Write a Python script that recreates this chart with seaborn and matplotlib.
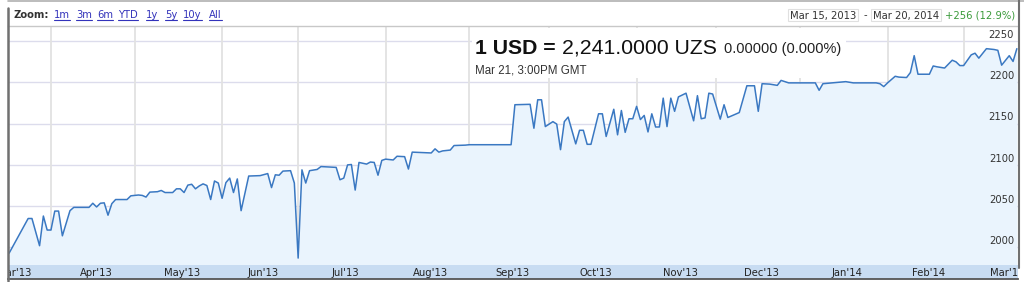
import numpy as np
import pandas as pd
import matplotlib
matplotlib.use("Agg")
import matplotlib.pyplot as plt
import matplotlib.transforms as mtransforms
from matplotlib.patches import Rectangle
from matplotlib.lines import Line2D
import seaborn as sns

# ---------------- data ----------------
dates = [
    "2013-03-15", "2013-03-22", "2013-03-25", "2013-03-27", "2013-03-28", "2013-03-29",
    "2013-04-01", "2013-04-02", "2013-04-03", "2013-04-04", "2013-04-08", "2013-04-09",
    "2013-04-15", "2013-04-16", "2013-04-17", "2013-04-18", "2013-04-19", "2013-04-22",
    "2013-04-23", "2013-04-24", "2013-04-26", "2013-04-29", "2013-04-30", "2013-05-02",
    "2013-05-03", "2013-05-06", "2013-05-07", "2013-05-09", "2013-05-10", "2013-05-13",
    "2013-05-15", "2013-05-16", "2013-05-17", "2013-05-20", "2013-05-21", "2013-05-22",
    "2013-05-23", "2013-05-24", "2013-05-27", "2013-05-28", "2013-05-29", "2013-05-30",
    "2013-05-31", "2013-06-03", "2013-06-04", "2013-06-05", "2013-06-06", "2013-06-07",
    "2013-06-10", "2013-06-12", "2013-06-17", "2013-06-19", "2013-06-20", "2013-06-21",
    "2013-06-24", "2013-06-25", "2013-06-27", "2013-06-28", "2013-07-01", "2013-07-02",
    "2013-07-03", "2013-07-04", "2013-07-08", "2013-07-09", "2013-07-15", "2013-07-16",
    "2013-07-17", "2013-07-18", "2013-07-19", "2013-07-22", "2013-07-23", "2013-07-25",
    "2013-07-26", "2013-07-29", "2013-07-30", "2013-07-31", "2013-08-01", "2013-08-05",
    "2013-08-06", "2013-08-08", "2013-08-09", "2013-08-12", "2013-08-19", "2013-08-20",
    "2013-08-21", "2013-08-22", "2013-08-26", "2013-08-27", "2013-08-30", "2013-09-02",
    "2013-09-17", "2013-09-18", "2013-09-24", "2013-09-25", "2013-09-26", "2013-09-27",
    "2013-09-30", "2013-10-02", "2013-10-03", "2013-10-04", "2013-10-07", "2013-10-08",
    "2013-10-10", "2013-10-11", "2013-10-14", "2013-10-15", "2013-10-16", "2013-10-18",
    "2013-10-21", "2013-10-22", "2013-10-24", "2013-10-25", "2013-10-28", "2013-10-29",
    "2013-10-30", "2013-10-31", "2013-11-01", "2013-11-04", "2013-11-05", "2013-11-06",
    "2013-11-07", "2013-11-08", "2013-11-11", "2013-11-12", "2013-11-13", "2013-11-14",
    "2013-11-15", "2013-11-18", "2013-11-20", "2013-11-22", "2013-11-25", "2013-11-26",
    "2013-11-27", "2013-11-28", "2013-11-29", "2013-12-03", "2013-12-04", "2013-12-05",
    "2013-12-10", "2013-12-12", "2013-12-16", "2013-12-17", "2013-12-18", "2013-12-20",
    "2013-12-24", "2013-12-25", "2013-12-27", "2014-01-07", "2014-01-08", "2014-01-09",
    "2014-01-17", "2014-01-21", "2014-01-29", "2014-01-30", "2014-01-31", "2014-02-03",
    "2014-02-05", "2014-02-06", "2014-02-10", "2014-02-11", "2014-02-12", "2014-02-13",
    "2014-02-18", "2014-02-19", "2014-02-20", "2014-02-24", "2014-02-26", "2014-02-27",
    "2014-02-28", "2014-03-03", "2014-03-05", "2014-03-06", "2014-03-07", "2014-03-11",
    "2014-03-13", "2014-03-14", "2014-03-17", "2014-03-19", "2014-03-20", "2014-03-21",
]
rates = [
    1993, 2035, 2035, 2002, 2038, 2021,
    2021, 2044, 2044, 2014, 2044.5, 2048.5,
    2048.5, 2053.5, 2049, 2053.5, 2054, 2039,
    2053, 2058, 2058, 2058, 2062.5, 2063.5,
    2063, 2061, 2067, 2067.5, 2069, 2066.5,
    2066.5, 2071, 2071, 2066.5, 2075.5, 2076.5,
    2071, 2074.5, 2077, 2075, 2058, 2080.5,
    2078, 2059.5, 2078.5, 2084, 2066.5, 2083,
    2044.5, 2086.5, 2087, 2089.5, 2072.5, 2088,
    2087.5, 2092.5, 2093, 2078, 1987, 2094,
    2078, 2093, 2094.5, 2098, 2097, 2082,
    2084, 2100, 2100.5, 2069.5, 2103, 2101,
    2103.5, 2103, 2087.5, 2105.5, 2107, 2106,
    2110.5, 2110, 2095, 2115.5, 2114.5, 2119.5,
    2115.5, 2117, 2118, 2123.5, 2124, 2124.5,
    2124.5, 2173, 2173.5, 2144.5, 2179, 2179,
    2146.5, 2152.5, 2149.5, 2118.5, 2152.5, 2158,
    2125.5, 2142, 2142, 2125, 2125, 2162,
    2162, 2134.5, 2167.5, 2136.5, 2166, 2139.5,
    2156, 2156, 2171, 2155, 2160, 2140,
    2162, 2146, 2146, 2181, 2146.5, 2181,
    2165, 2182.5, 2187, 2153.5, 2184, 2156,
    2157, 2187, 2186, 2155.5, 2173, 2157.5,
    2163.5, 2196, 2196, 2165, 2198.5, 2198,
    2196.5, 2202.5, 2199.5, 2199.5, 2190.5, 2198.5,
    2201, 2199.5, 2199.5, 2198.5, 2195, 2199.5,
    2207.5, 2206.5, 2206, 2212, 2232.5, 2210,
    2210, 2220, 2219, 2217.5, 2227, 2225,
    2220.5, 2220.5, 2233.5, 2235.5, 2229.5, 2241,
    2240, 2239, 2221, 2232.5, 2225.5, 2241,
]
month_labels = ["Mar'13", "Apr'13", "May'13", "Jun'13", "Jul'13", "Aug'13", "Sep'13",
                "Oct'13", "Nov'13", "Dec'13", "Jan'14", "Feb'14", "Mar'14"]
y_ticks = [2000, 2050, 2100, 2150, 2200, 2250]
zoom_buttons = ["1m", "3m", "6m", "YTD", "1y", "5y", "10y", "All"]
range_start = "Mar 15, 2013"
range_end = "Mar 20, 2014"
change_text = "+256 (12.9%)"
title_bold = "1 USD ="
title_value = "2,241.0000 UZS"
title_change = "0.00000 (0.000%)"
title_time = "Mar 21, 3:00PM GMT"

# ---------------- scales ----------------
W, H = 1024, 282
cal = pd.bdate_range("2013-03-01", "2014-05-30")
origin = cal.get_loc(pd.Timestamp(dates[0]))


def bpos(d):
    return cal.get_indexer(pd.to_datetime(d)) - origin


df = pd.DataFrame({"date": pd.to_datetime(dates), "rate": rates})
df["pos"] = bpos(df["date"])
month_starts = pd.date_range("2013-03-01", "2014-04-01", freq="BMS")
ms_pos = bpos(month_starts)


def P(x, y):
    return (x / W, 1 - y / H)


sns.set_style("white")
plt.rcParams["font.family"] = ["DejaVu Sans"]

fig = plt.figure(figsize=(W / 100, H / 100), dpi=100)
fig.patch.set_facecolor("white")

ax_l, ax_r, ax_t, ax_b = 8, 1018, 26, 265
ax = fig.add_axes([ax_l / W, 1 - ax_b / H, (ax_r - ax_l) / W, (ax_b - ax_t) / H])
band = fig.add_axes([ax_l / W, 1 - 279 / H, (ax_r - ax_l) / W, 14 / H], sharex=ax)

ymin, ymax = 1978.6, 2268.5
xmin, xmax = -0.3, 265.3

# grid
for v in y_ticks:
    ax.axhline(v, color="#DCDCEC", lw=1.0, zorder=1)
for p in ms_pos[1:13]:
    ax.axvline(p, color="#E2E2E2", lw=1.3, zorder=1)

ax.fill_between(df["pos"], df["rate"], ymin, color="#EAF4FD", zorder=2, lw=0)
sns.lineplot(data=df, x="pos", y="rate", ax=ax, color="#3A78C2", lw=1.1, zorder=3)

ax.set_xlim(xmin, xmax)
ax.set_ylim(ymin, ymax)
ax.set_xlabel("")
ax.set_ylabel("")
ax.set_xticks(ms_pos[1:13])
ax.set_yticks([])
ax.tick_params(axis="x", direction="in", length=5, width=1, color="#A8A8A8",
               labelbottom=False, bottom=True)
for s in ["left", "right", "bottom"]:
    ax.spines[s].set_visible(False)
ax.spines["top"].set_color("#C8C8C8")
ax.spines["top"].set_linewidth(1.0)

# y labels inside right edge
tr = mtransforms.blended_transform_factory(ax.transAxes, ax.transData)
for v in y_ticks:
    ax.text(1 - 4 / (ax_r - ax_l), v + 1.6, str(v), transform=tr, ha="right",
            va="bottom", fontsize=7.2, color="#333333", zorder=5)

# x band
band.set_facecolor("#C8DCF2")
band.set_ylim(0, 1)
band.set_yticks([])
band.tick_params(axis="x", length=0, labelbottom=False)
for s in ["left", "right", "top"]:
    band.spines[s].set_visible(False)
band.spines["bottom"].set_color("#555555")
band.spines["bottom"].set_linewidth(1.3)
for i, lab in enumerate(month_labels):
    c = (ms_pos[i] + ms_pos[i + 1]) / 2 + 0.9
    band.text(c, 0.45, lab, ha="center", va="center", fontsize=7.2,
              color="#222222", clip_on=True)

# white title box
fig.add_artist(Rectangle(P(472, 78), 374 / W, 50 / H, transform=fig.transFigure,
                         facecolor="white", edgecolor="none", zorder=1))

# outer frame
def fline(x1, y1, x2, y2, color, lw):
    a, b = P(x1, y1)
    c, d = P(x2, y2)
    fig.add_artist(Line2D([a, c], [b, d], transform=fig.transFigure, color=color, lw=lw))

fline(8, 0.7, 1024, 0.7, "#B0B0B0", 1.2)
fline(8, 8, 8, 281, "#707070", 1.8)
fline(1019, 0, 1019, 268, "#707070", 1.5)

# zoom bar
fig.text(*P(13, 15.5), "Zoom:", fontsize=7.2, weight="bold", color="#333333",
         va="center")
link_x = [54, 76, 97, 118, 146, 165, 183, 209]
fig.canvas.draw()
renderer = fig.canvas.get_renderer()
for lx, lab in zip(link_x, zoom_buttons):
    t = fig.text(*P(lx, 15.5), lab, fontsize=7.2, color="#3333BB", va="center")
    bb = t.get_window_extent(renderer)
    fline(bb.x0, 19.5, bb.x1, 19.5, "#3333BB", 0.8)

# range boxes
for (x0, x1), lab in zip([(788, 858), (871, 941)], [range_start, range_end]):
    fig.add_artist(Rectangle(P(x0, 21), (x1 - x0) / W, 12 / H, transform=fig.transFigure,
                             facecolor="white", edgecolor="#E0E0E0", lw=0.8))
    fig.text(*P((x0 + x1) / 2, 15.5), lab, fontsize=7.2, color="#333333",
             ha="center", va="center")
fig.text(*P(865, 15.5), "-", fontsize=7.2, color="#333333", ha="center", va="center")
fig.text(*P(945, 15.5), change_text, fontsize=7.2, color="#3A9A3A", va="center")

# title overlay
tf = ["Liberation Sans", "DejaVu Sans"]
base_y = 53.5
t1 = fig.text(*P(475, base_y), title_bold, fontsize=15.3, weight="bold",
              family=tf, color="#111111", va="baseline", zorder=5)
bb1 = t1.get_window_extent(renderer)
t2 = fig.text(*P(bb1.x1 + 6, base_y), title_value, fontsize=15.3, family=tf,
              color="#111111", va="baseline", zorder=5)
bb2 = t2.get_window_extent(renderer)
fig.text(*P(bb2.x1 + 7, base_y), title_change, fontsize=10.5, family=tf,
         color="#222222", va="baseline", zorder=5)
fig.text(*P(475, 73.5), title_time, fontsize=8.3, family=tf, color="#333333",
         va="baseline", zorder=5)

fig.savefig("out.png", dpi=100)
